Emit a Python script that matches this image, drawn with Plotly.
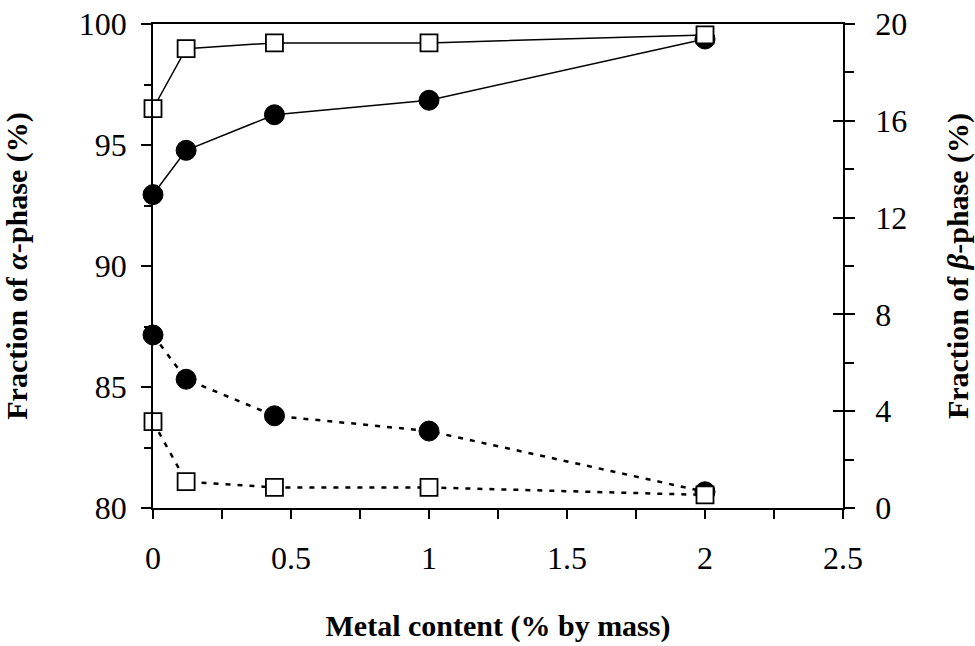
import plotly.graph_objects as go

# Data
metal_content = [0, 0.12, 0.44, 1.0, 2.0]
alpha_circle = [92.95, 94.78, 96.25, 96.85, 99.38]
alpha_square = [96.5, 98.98, 99.22, 99.22, 99.55]
beta_circle = [7.15, 5.32, 3.81, 3.18, 0.67]
beta_square = [3.57, 1.09, 0.85, 0.85, 0.54]

x_ticks = [0, 0.5, 1, 1.5, 2, 2.5]
x_ticklabels = ["0", "0.5", "1", "1.5", "2", "2.5"]
left_ticks = [80, 85, 90, 95, 100]
right_ticks = [0, 4, 8, 12, 16, 20]

FONT = "Liberation Serif, Times New Roman, serif"
circle_marker = dict(symbol="circle", size=20, color="black", line=dict(color="black", width=1))
square_marker = dict(symbol="square", size=17, color="white", line=dict(color="black", width=1.8))

fig = go.Figure()
fig.add_trace(go.Scatter(x=metal_content, y=alpha_circle, mode="lines+markers",
                         line=dict(color="black", width=1.5), marker=circle_marker,
                         yaxis="y", showlegend=False, cliponaxis=False))
fig.add_trace(go.Scatter(x=metal_content, y=alpha_square, mode="lines+markers",
                         line=dict(color="black", width=1.5), marker=square_marker,
                         yaxis="y", showlegend=False, cliponaxis=False))
fig.add_trace(go.Scatter(x=metal_content, y=beta_circle, mode="lines+markers",
                         line=dict(color="black", width=2.5, dash="5px,7px"), marker=circle_marker,
                         yaxis="y2", showlegend=False, cliponaxis=False))
fig.add_trace(go.Scatter(x=metal_content, y=beta_square, mode="lines+markers",
                         line=dict(color="black", width=2.5, dash="5px,7px"), marker=square_marker,
                         yaxis="y2", showlegend=False, cliponaxis=False))
# helper trace to draw the inward part of the crossing major ticks on the right axis
fig.add_trace(go.Scatter(x=[None], y=[None], yaxis="y3", showlegend=False, hoverinfo="skip"))

fig.update_layout(
    width=975, height=646,
    margin=dict(l=153, r=132, t=24, b=138, autoexpand=False),
    paper_bgcolor="white", plot_bgcolor="white",
    font=dict(family=FONT, size=32, color="black"),
    xaxis=dict(range=[0, 2.5], tickmode="array", tickvals=x_ticks, ticktext=x_ticklabels,
               ticks="outside", ticklen=9, tickwidth=1.5, tickcolor="black",
               minor=dict(dtick=0.25, ticks="outside", ticklen=9, tickwidth=1.5, tickcolor="black"),
               showline=True, linecolor="black", linewidth=1.5, mirror=True,
               showgrid=False, zeroline=False, ticklabelstandoff=12, automargin=False,
               title=dict(text="<b>Metal content (% by mass)</b>",
                          font=dict(family=FONT, size=30, color="black"), standoff=40)),
    yaxis=dict(range=[80, 100], tickmode="array", tickvals=left_ticks,
               ticks="outside", ticklen=10, tickwidth=1.5, tickcolor="black",
               minor=dict(dtick=2.5, ticks="outside", ticklen=7, tickwidth=1.5, tickcolor="black"),
               showline=True, linecolor="black", linewidth=1.5,
               showgrid=False, zeroline=False, ticklabelstandoff=8, automargin=False,
               title=dict(text="<b>Fraction of <i>α</i>-phase (%)</b>",
                          font=dict(family=FONT, size=30, color="black"), standoff=45)),
    yaxis2=dict(range=[0, 20], tickmode="array", tickvals=right_ticks, overlaying="y", side="right",
                ticks="outside", ticklen=10, tickwidth=1.5, tickcolor="black",
                minor=dict(dtick=2, ticks="outside", ticklen=9, tickwidth=1.5, tickcolor="black"),
                showline=True, linecolor="black", linewidth=1.5,
                showgrid=False, zeroline=False, ticklabelstandoff=14, automargin=False,
                title=dict(text="<b>Fraction of <i>β</i>-phase (%)</b>",
                           font=dict(family=FONT, size=30, color="black"), standoff=42)),
    yaxis3=dict(range=[0, 20], tickmode="array", tickvals=right_ticks, overlaying="y", side="right",
                ticks="inside", ticklen=10, tickwidth=1.5, tickcolor="black", automargin=False,
                showticklabels=False, showline=False, showgrid=False, zeroline=False),
)

fig.write_html("out.html")
